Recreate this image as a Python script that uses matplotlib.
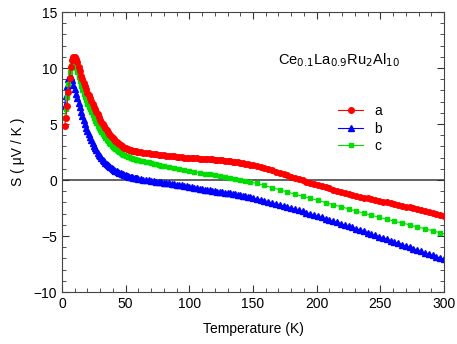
import matplotlib
matplotlib.use('Agg')
import matplotlib.pyplot as plt
from matplotlib.ticker import MultipleLocator

plt.rcParams['font.family'] = ['Liberation Sans', 'DejaVu Sans']

# temperature grid (K): 1 K steps to 60 K, 2 K to 150 K, 3 K to 300 K
temps = list(range(2, 61)) + list(range(62, 151, 2)) + list(range(153, 301, 3))

# S along a (uV/K)
s_a = [4.8, 5.5, 6.6, 7.9, 9.1, 10.1, 10.7, 11.0, 10.95, 10.8, 10.5, 10.1, 9.7, 9.3, 9.0, 8.7, 8.4, 8.1, 7.8,
       7.55, 7.3, 7.05, 6.8, 6.55, 6.3, 6.07, 5.85, 5.62, 5.4, 5.2, 5.0, 4.8, 4.6, 4.45, 4.3, 4.15, 4.0, 3.87, 3.75,
       3.62, 3.5, 3.4, 3.3, 3.2, 3.1, 3.02, 2.95, 2.9, 2.85, 2.8, 2.75, 2.7, 2.65, 2.62, 2.6, 2.57, 2.55, 2.52, 2.5,
       2.48, 2.45, 2.41, 2.38, 2.35, 2.32, 2.3, 2.27, 2.25, 2.22, 2.18, 2.15, 2.12, 2.1, 2.07, 2.05, 2.02, 2.0,
       1.97, 1.95, 1.94, 1.93, 1.92, 1.9, 1.88, 1.87, 1.86, 1.85, 1.84, 1.82, 1.8, 1.78, 1.76, 1.74, 1.71, 1.68,
       1.65, 1.62, 1.59, 1.55, 1.51, 1.47, 1.43, 1.38, 1.33,
       1.25, 1.16, 1.07, 0.97, 0.86, 0.75, 0.64, 0.52, 0.41, 0.3, 0.19, 0.08, -0.04, -0.15, -0.26, -0.36, -0.45,
       -0.55, -0.65, -0.75, -0.85, -0.95, -1.05, -1.14, -1.23, -1.32, -1.4, -1.49, -1.57, -1.65, -1.73, -1.79,
       -1.85, -1.92, -2.0, -2.07, -2.15, -2.22, -2.3, -2.38, -2.45, -2.53, -2.61, -2.69, -2.78, -2.87, -2.95,
       -3.04, -3.13, -3.22]

# S along b
s_b = [6.6, 7.5, 8.4, 9.0, 9.3, 9.2, 8.9, 8.5, 8.1, 7.7, 7.3, 6.9, 6.5, 6.1, 5.7, 5.35, 5.0, 4.65, 4.35,
       4.07, 3.8, 3.55, 3.3, 3.07, 2.85, 2.65, 2.45, 2.27, 2.1, 1.95, 1.8, 1.67, 1.55, 1.43, 1.32, 1.22, 1.12,
       1.03, 0.95, 0.88, 0.82, 0.76, 0.7, 0.65, 0.6, 0.55, 0.5, 0.46, 0.42, 0.38, 0.35, 0.31, 0.28, 0.25, 0.22,
       0.19, 0.17, 0.14, 0.12,
       0.08, 0.04, 0.0, -0.03, -0.07, -0.1, -0.14, -0.17, -0.21, -0.24, -0.27, -0.3, -0.34, -0.37, -0.41, -0.44,
       -0.48, -0.51, -0.55, -0.6, -0.63, -0.67, -0.72, -0.76, -0.81, -0.86, -0.9, -0.93, -0.97, -1.0, -1.04,
       -1.07, -1.1, -1.13, -1.16, -1.2, -1.24, -1.28, -1.32, -1.37, -1.41, -1.46, -1.5, -1.55, -1.6,
       -1.68, -1.76, -1.85, -1.94, -2.03, -2.12, -2.22, -2.32, -2.41, -2.5, -2.6, -2.7, -2.8, -2.91, -3.02,
       -3.12, -3.23, -3.34, -3.45, -3.56, -3.68, -3.79, -3.9, -4.02, -4.13, -4.24, -4.35, -4.46, -4.58, -4.69,
       -4.81, -4.93, -5.05, -5.17, -5.29, -5.41, -5.53, -5.65, -5.77, -5.89, -6.01, -6.13, -6.25, -6.37,
       -6.49, -6.61, -6.73, -6.85, -6.97, -7.09]

# S along c
s_c = [5.5, 6.3, 7.4, 8.6, 9.6, 10.2, 10.5, 10.5, 10.3, 10.0, 9.6, 9.2, 8.8, 8.4, 8.0, 7.7, 7.4, 7.1, 6.8,
       6.55, 6.3, 6.05, 5.8, 5.55, 5.3, 5.07, 4.85, 4.65, 4.45, 4.27, 4.1, 3.92, 3.75, 3.6, 3.45, 3.32, 3.2,
       3.07, 2.95, 2.85, 2.75, 2.65, 2.55, 2.47, 2.4, 2.33, 2.27, 2.21, 2.15, 2.1, 2.05, 2.01, 1.97, 1.93, 1.9,
       1.86, 1.83, 1.8, 1.78,
       1.73, 1.68, 1.63, 1.58, 1.51, 1.45, 1.39, 1.33, 1.27, 1.22, 1.17, 1.12, 1.07, 1.03, 0.99, 0.95, 0.91,
       0.87, 0.83, 0.8, 0.76, 0.73, 0.69, 0.66, 0.62, 0.58, 0.54, 0.5, 0.47, 0.43, 0.4, 0.36, 0.32, 0.28, 0.24,
       0.2, 0.16, 0.12, 0.08, 0.03, -0.02, -0.07, -0.12, -0.17, -0.23,
       -0.31, -0.4, -0.49, -0.58, -0.68, -0.78, -0.88, -0.98, -1.08, -1.18, -1.27, -1.36, -1.45, -1.55, -1.64,
       -1.73, -1.83, -1.92, -2.02, -2.11, -2.2, -2.3, -2.39, -2.48, -2.58, -2.67, -2.77, -2.86, -2.96, -3.05,
       -3.15, -3.24, -3.33, -3.42, -3.5, -3.59, -3.67, -3.76, -3.84, -3.92, -4.0, -4.1, -4.18, -4.27, -4.36,
       -4.45, -4.54, -4.63, -4.72, -4.8]

fig = plt.figure(figsize=(4.57, 3.44), dpi=100)
ax = fig.add_axes([62/457, 52/344, 382/457, 280/344])

ax.axhline(0, color='#555555', lw=1.3, zorder=1)

# green markers are sparser above ~80 K
c_marks = [i for i, t in enumerate(temps) if t <= 80 or i % 2 == 0]

ax.plot(temps, s_a, color='red', marker='o', ms=4, lw=0.8, label='a', zorder=3)
ax.plot(temps, s_b, color='blue', marker='^', ms=4, lw=0.8, label='b', zorder=2)
ax.plot(temps, s_c, color='#00dd00', marker='s', ms=3.5, lw=0.8, label='c', zorder=2,
        markevery=c_marks)

ax.set_xlim(0, 300)
ax.set_ylim(-10, 15)
ax.xaxis.set_major_locator(MultipleLocator(50))
ax.xaxis.set_minor_locator(MultipleLocator(10))
ax.yaxis.set_major_locator(MultipleLocator(5))
ax.yaxis.set_minor_locator(MultipleLocator(1))
ax.tick_params(which='both', direction='in', top=True, right=True, labelsize=10, colors='#333333',
               labelcolor='black')
ax.tick_params(which='major', length=5)
ax.tick_params(which='minor', length=3)
for s in ax.spines.values():
    s.set_color('#444444')

ax.set_xlabel('Temperature (K)', fontsize=10, labelpad=8)
ax.set_ylabel('S ( \u03bcV / K )', fontsize=10, labelpad=6)

ax.text(170, 10.7, 'Ce$_{0.1}$La$_{0.9}$Ru$_2$Al$_{10}$', fontsize=10.5, ha='left', va='center')

ax.legend(loc='upper left', bbox_to_anchor=(0.705, 0.695), frameon=False, fontsize=10,
          handlelength=1.8, handletextpad=0.8, labelspacing=0.25, borderpad=0)

fig.savefig('out.png', dpi=100)
